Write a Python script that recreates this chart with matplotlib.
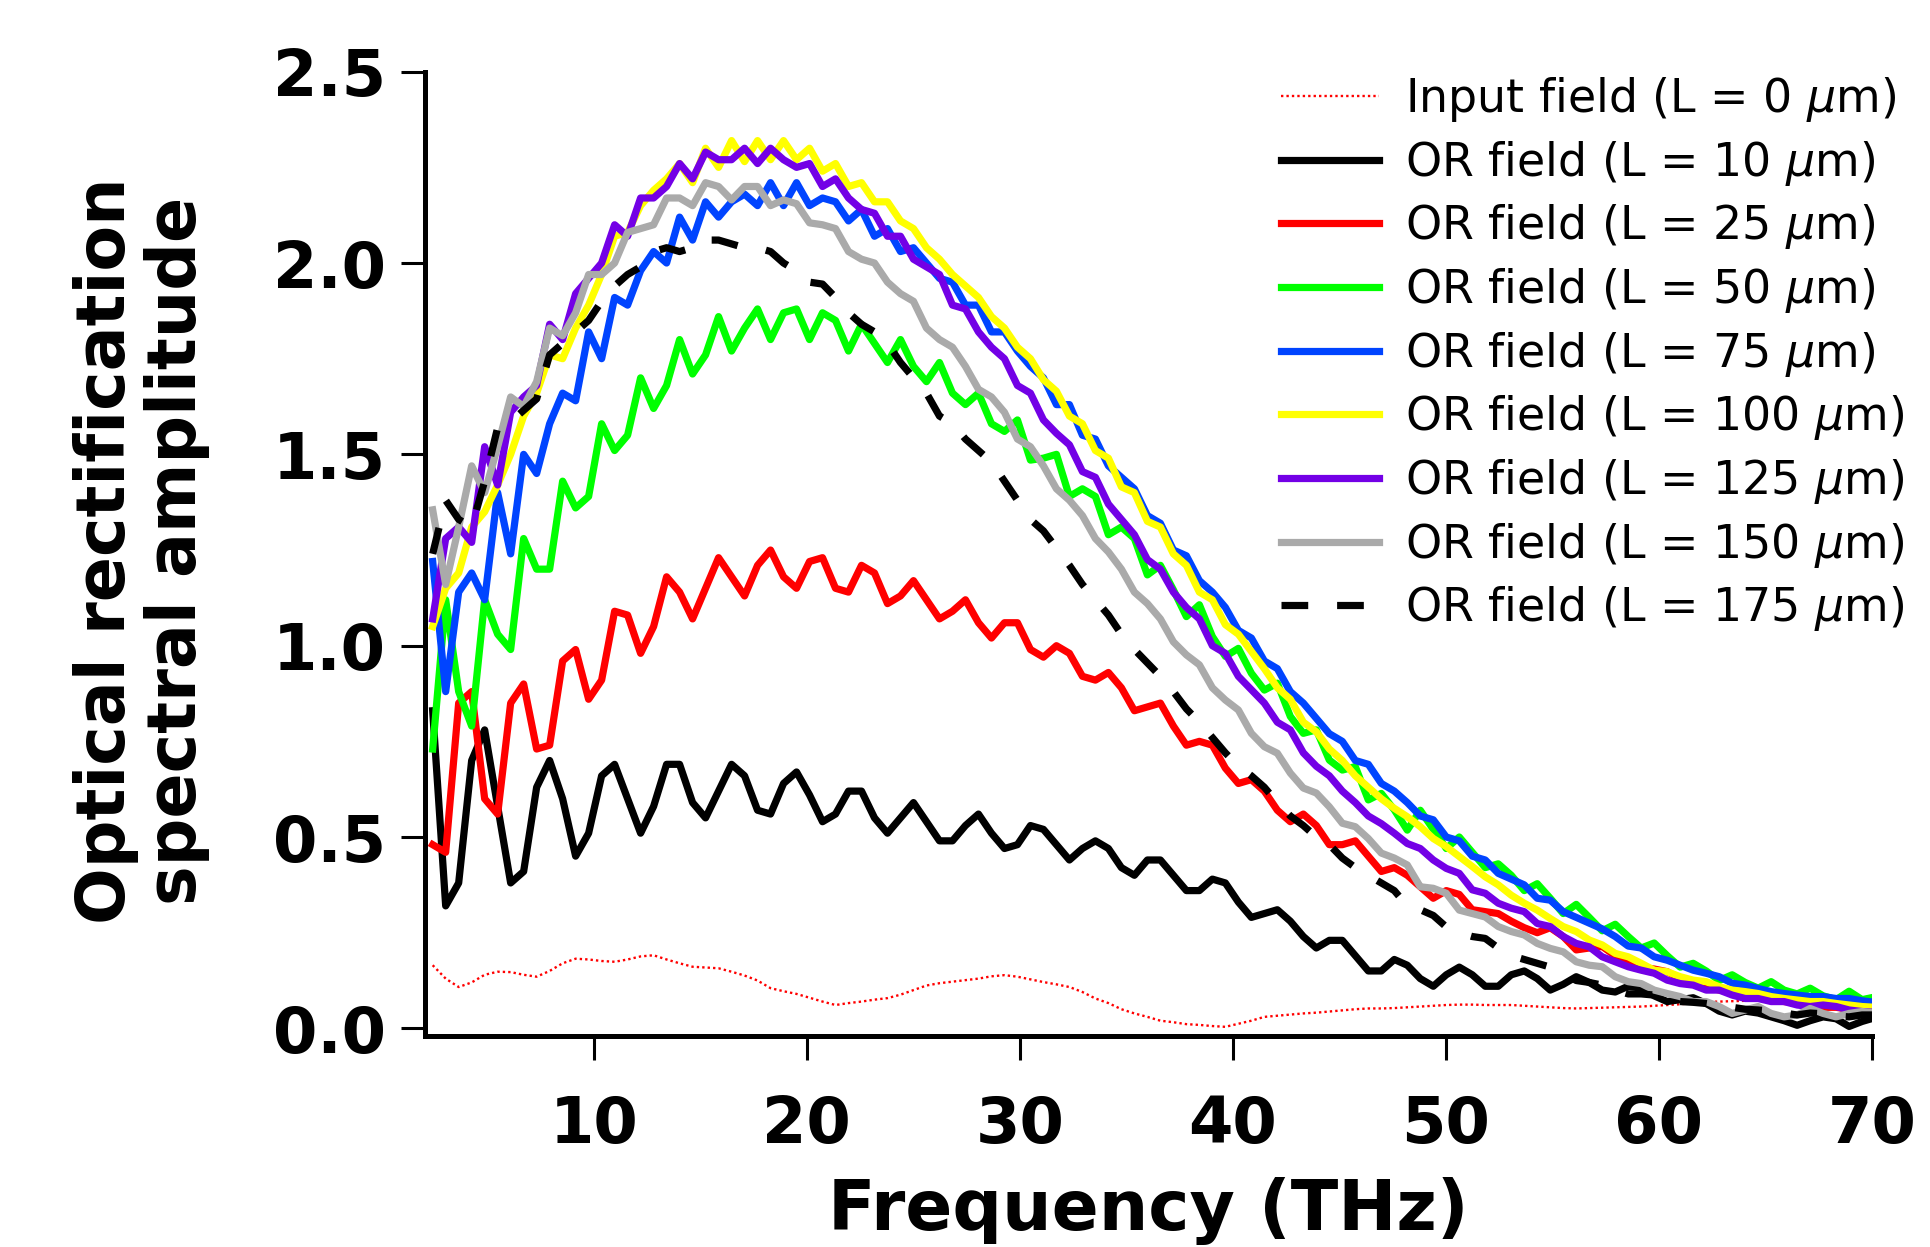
import numpy as np
import matplotlib
matplotlib.use("Agg")
import matplotlib.pyplot as plt

# frequency grid of the spectra (THz), 0.61 THz steps starting at 2.44
freq = np.round(2.44 + 0.61 * np.arange(112), 2)

input_field = [0.165, 0.13, 0.108, 0.12, 0.14, 0.148, 0.147, 0.14, 0.135, 0.15, 0.17, 0.182, 0.18, 0.176,
               0.174, 0.18, 0.188, 0.191, 0.18, 0.17, 0.161, 0.159, 0.157, 0.148, 0.138, 0.125, 0.105, 0.097,
               0.09, 0.08, 0.07, 0.061, 0.066, 0.07, 0.075, 0.079, 0.088, 0.10, 0.112, 0.118, 0.122, 0.126,
               0.13, 0.136, 0.139, 0.135, 0.128, 0.121, 0.115, 0.108, 0.095, 0.078, 0.066, 0.05, 0.039, 0.03,
               0.02, 0.016, 0.011, 0.009, 0.006, 0.004, 0.012, 0.02, 0.03, 0.033, 0.036, 0.039, 0.041, 0.044,
               0.047, 0.05, 0.052, 0.052, 0.053, 0.055, 0.057, 0.059, 0.061, 0.062, 0.062, 0.061, 0.061, 0.061,
               0.059, 0.057, 0.055, 0.053, 0.052, 0.053, 0.054, 0.055, 0.056, 0.057, 0.059, 0.061, 0.063, 0.066,
               0.069, 0.07, 0.071, 0.072, 0.073, 0.074, 0.075, 0.076, 0.077, 0.077, 0.078, 0.078, 0.079, 0.08]

or_10 = [0.83, 0.32, 0.38, 0.70, 0.78, 0.58, 0.38, 0.41, 0.63, 0.70, 0.60, 0.45, 0.51, 0.66, 0.69, 0.60,
         0.51, 0.58, 0.69, 0.69, 0.59, 0.55, 0.62, 0.69, 0.66, 0.57, 0.56, 0.64, 0.67, 0.61, 0.54, 0.56,
         0.62, 0.62, 0.55, 0.51, 0.55, 0.59, 0.54, 0.49, 0.49, 0.53, 0.56, 0.51, 0.47, 0.48, 0.53, 0.52,
         0.48, 0.44, 0.47, 0.49, 0.47, 0.42, 0.40, 0.44, 0.44, 0.40, 0.36, 0.36, 0.39, 0.38, 0.33, 0.29,
         0.30, 0.31, 0.28, 0.24, 0.21, 0.23, 0.23, 0.19, 0.15, 0.15, 0.18, 0.165, 0.13, 0.11, 0.14, 0.16,
         0.14, 0.11, 0.11, 0.14, 0.15, 0.13, 0.10, 0.115, 0.135, 0.12, 0.10, 0.095, 0.11, 0.105, 0.085, 0.07,
         0.075, 0.08, 0.065, 0.045, 0.035, 0.045, 0.04, 0.03, 0.02, 0.008, 0.02, 0.03, 0.025, 0.005, 0.018, 0.028]

or_25 = [0.48, 0.46, 0.85, 0.88, 0.60, 0.56, 0.85, 0.90, 0.73, 0.74, 0.96, 0.99, 0.86, 0.91, 1.09, 1.08,
         0.98, 1.05, 1.18, 1.14, 1.07, 1.15, 1.23, 1.18, 1.13, 1.21, 1.25, 1.18, 1.15, 1.22, 1.23, 1.15,
         1.14, 1.21, 1.19, 1.11, 1.13, 1.17, 1.12, 1.07, 1.09, 1.12, 1.06, 1.02, 1.06, 1.06, 0.99, 0.97,
         1.00, 0.98, 0.92, 0.91, 0.93, 0.89, 0.83, 0.84, 0.85, 0.79, 0.74, 0.75, 0.74, 0.68, 0.64, 0.65,
         0.62, 0.57, 0.54, 0.56, 0.53, 0.48, 0.48, 0.49, 0.45, 0.41, 0.42, 0.40, 0.37, 0.34, 0.36, 0.35,
         0.31, 0.305, 0.30, 0.28, 0.263, 0.25, 0.263, 0.24, 0.205, 0.21, 0.214, 0.19, 0.17, 0.16, 0.155, 0.148,
         0.13, 0.122, 0.109, 0.10, 0.095, 0.09, 0.085, 0.075, 0.07, 0.068, 0.06, 0.055, 0.055, 0.05, 0.045, 0.045]

or_50 = [0.73, 1.12, 0.88, 0.79, 1.12, 1.03, 0.99, 1.28, 1.20, 1.20, 1.43, 1.36, 1.39, 1.58, 1.51, 1.55,
         1.70, 1.62, 1.68, 1.80, 1.71, 1.76, 1.86, 1.77, 1.83, 1.88, 1.80, 1.87, 1.88, 1.80, 1.87, 1.85,
         1.77, 1.84, 1.79, 1.74, 1.80, 1.73, 1.69, 1.74, 1.66, 1.63, 1.66, 1.58, 1.56, 1.59, 1.485, 1.49,
         1.50, 1.39, 1.41, 1.39, 1.29, 1.31, 1.28, 1.185, 1.21, 1.146, 1.076, 1.107, 1.024, 0.972, 0.993, 0.928,
         0.884, 0.902, 0.815, 0.771, 0.78, 0.701, 0.675, 0.684, 0.597, 0.614, 0.571, 0.518, 0.57, 0.52, 0.47, 0.50,
         0.46, 0.42, 0.43, 0.40, 0.36, 0.378, 0.34, 0.30, 0.324, 0.29, 0.255, 0.272, 0.24, 0.21, 0.223, 0.19,
         0.16, 0.17, 0.15, 0.125, 0.14, 0.12, 0.105, 0.122, 0.10, 0.09, 0.105, 0.085, 0.075, 0.097, 0.075, 0.082]

or_75 = [1.22, 0.88, 1.14, 1.19, 1.12, 1.40, 1.24, 1.50, 1.45, 1.58, 1.66, 1.64, 1.82, 1.75, 1.91, 1.89,
         1.98, 2.03, 2.00, 2.12, 2.06, 2.16, 2.12, 2.16, 2.18, 2.15, 2.21, 2.15, 2.21, 2.15, 2.17, 2.16,
         2.11, 2.14, 2.07, 2.09, 2.03, 2.04, 2.00, 1.96, 1.95, 1.89, 1.89, 1.82, 1.82, 1.77, 1.73, 1.70,
         1.63, 1.63, 1.55, 1.54, 1.47, 1.44, 1.41, 1.34, 1.32, 1.25, 1.235, 1.17, 1.14, 1.10, 1.04, 1.02,
         0.96, 0.94, 0.88, 0.85, 0.81, 0.77, 0.75, 0.70, 0.69, 0.64, 0.62, 0.59, 0.555, 0.545, 0.50, 0.49,
         0.45, 0.44, 0.405, 0.39, 0.375, 0.34, 0.335, 0.305, 0.29, 0.275, 0.26, 0.24, 0.215, 0.21, 0.187, 0.178,
         0.165, 0.152, 0.144, 0.135, 0.118, 0.113, 0.104, 0.096, 0.091, 0.087, 0.083, 0.083, 0.078, 0.078, 0.072, 0.068]

or_100 = [1.05, 1.15, 1.19, 1.31, 1.35, 1.42, 1.50, 1.60, 1.66, 1.76, 1.75, 1.83, 1.89, 1.97, 2.07, 2.08,
          2.15, 2.19, 2.22, 2.26, 2.21, 2.30, 2.25, 2.32, 2.265, 2.32, 2.27, 2.32, 2.27, 2.30, 2.24, 2.26,
          2.20, 2.21, 2.16, 2.16, 2.11, 2.09, 2.04, 2.01, 1.97, 1.94, 1.91, 1.86, 1.83, 1.78, 1.75, 1.695,
          1.665, 1.60, 1.58, 1.51, 1.49, 1.415, 1.40, 1.325, 1.31, 1.24, 1.21, 1.14, 1.12, 1.055, 1.03, 0.985,
          0.94, 0.89, 0.86, 0.80, 0.775, 0.73, 0.70, 0.66, 0.63, 0.60, 0.575, 0.553, 0.527, 0.496, 0.475, 0.449,
          0.423, 0.396, 0.375, 0.348, 0.327, 0.309, 0.287, 0.266, 0.253, 0.231, 0.218, 0.196, 0.187, 0.17, 0.152, 0.148,
          0.135, 0.126, 0.122, 0.109, 0.10, 0.096, 0.091, 0.083, 0.078, 0.074, 0.07, 0.07, 0.065, 0.061, 0.057, 0.055]

or_125 = [1.07, 1.28, 1.31, 1.27, 1.52, 1.42, 1.61, 1.65, 1.68, 1.84, 1.80, 1.92, 1.96, 2.00, 2.10, 2.07,
          2.17, 2.17, 2.20, 2.26, 2.22, 2.29, 2.27, 2.27, 2.30, 2.26, 2.30, 2.27, 2.25, 2.26, 2.20, 2.22,
          2.17, 2.14, 2.13, 2.07, 2.07, 2.01, 1.99, 1.97, 1.89, 1.88, 1.82, 1.78, 1.75, 1.68, 1.66, 1.59,
          1.555, 1.525, 1.455, 1.44, 1.37, 1.33, 1.29, 1.225, 1.20, 1.14, 1.10, 1.07, 1.00, 0.98, 0.92, 0.885,
          0.85, 0.80, 0.78, 0.72, 0.685, 0.66, 0.62, 0.59, 0.555, 0.535, 0.51, 0.483, 0.47, 0.44, 0.418, 0.405,
          0.362, 0.353, 0.327, 0.314, 0.305, 0.274, 0.266, 0.24, 0.222, 0.213, 0.187, 0.174, 0.161, 0.152, 0.144, 0.126,
          0.117, 0.113, 0.10, 0.10, 0.087, 0.078, 0.078, 0.07, 0.07, 0.061, 0.057, 0.061, 0.057, 0.048, 0.044, 0.042]

or_150 = [1.355, 1.16, 1.31, 1.47, 1.40, 1.52, 1.65, 1.625, 1.69, 1.83, 1.81, 1.87, 1.97, 1.97, 2.00, 2.08,
          2.09, 2.10, 2.17, 2.17, 2.15, 2.21, 2.20, 2.165, 2.20, 2.20, 2.15, 2.165, 2.155, 2.105, 2.10, 2.09,
          2.03, 2.01, 2.00, 1.95, 1.92, 1.90, 1.83, 1.80, 1.78, 1.73, 1.67, 1.65, 1.61, 1.54, 1.52, 1.47,
          1.41, 1.38, 1.34, 1.28, 1.245, 1.20, 1.14, 1.11, 1.07, 1.01, 0.976, 0.95, 0.89, 0.858, 0.832, 0.771,
          0.736, 0.719, 0.667, 0.628, 0.615, 0.579, 0.536, 0.527, 0.496, 0.458, 0.445, 0.427, 0.37, 0.366, 0.353, 0.309,
          0.30, 0.291, 0.266, 0.253, 0.244, 0.222, 0.209, 0.20, 0.174, 0.165, 0.161, 0.135, 0.122, 0.117, 0.10, 0.091,
          0.083, 0.07, 0.07, 0.057, 0.039, 0.048, 0.057, 0.039, 0.03, 0.035, 0.052, 0.039, 0.03, 0.039, 0.044, 0.04]

or_175 = [1.24, 1.38, 1.33, 1.31, 1.43, 1.57, 1.585, 1.615, 1.645, 1.76, 1.79, 1.82, 1.85, 1.90, 1.94, 1.97,
          1.99, 2.03, 2.04, 2.03, 2.04, 2.06, 2.06, 2.05, 2.04, 2.04, 2.03, 2.00, 1.98, 1.95, 1.945, 1.91,
          1.87, 1.84, 1.82, 1.79, 1.74, 1.70, 1.66, 1.60, 1.58, 1.54, 1.51, 1.48, 1.43, 1.38, 1.33, 1.30,
          1.255, 1.21, 1.16, 1.12, 1.08, 1.03, 0.99, 0.955, 0.92, 0.88, 0.835, 0.80, 0.76, 0.72, 0.685, 0.66,
          0.63, 0.59, 0.555, 0.53, 0.50, 0.48, 0.445, 0.42, 0.40, 0.38, 0.36, 0.32, 0.31, 0.295, 0.265, 0.25,
          0.24, 0.235, 0.21, 0.19, 0.18, 0.17, 0.16, 0.145, 0.125, 0.12, 0.113, 0.10, 0.09, 0.09, 0.087, 0.074,
          0.07, 0.068, 0.065, 0.06, 0.055, 0.05, 0.048, 0.045, 0.04, 0.035, 0.04, 0.038, 0.032, 0.03, 0.035, 0.035]

labels = ["Input field (L = 0 $\\mu$m)",
          "OR field (L = 10 $\\mu$m)",
          "OR field (L = 25 $\\mu$m)",
          "OR field (L = 50 $\\mu$m)",
          "OR field (L = 75 $\\mu$m)",
          "OR field (L = 100 $\\mu$m)",
          "OR field (L = 125 $\\mu$m)",
          "OR field (L = 150 $\\mu$m)",
          "OR field (L = 175 $\\mu$m)"]

plt.rcParams["font.family"] = ["DejaVu Sans"]
plt.rcParams["mathtext.fontset"] = "dejavusans"

fig = plt.figure(figsize=(19.31, 12.47), dpi=100)
ax = fig.add_axes([0.2201, 0.1692, 0.7493, 0.7733])

lw = 5.2
ax.plot(freq, input_field, color="#ff0000", lw=1.7, ls=(0, (1.0, 1.3)), label=labels[0])
ax.plot(freq, or_10, color="black", lw=lw, label=labels[1])
ax.plot(freq, or_25, color="#ff0000", lw=lw, label=labels[2])
ax.plot(freq, or_50, color="#00ff00", lw=lw, label=labels[3])
ax.plot(freq, or_75, color="#0044ff", lw=lw, label=labels[4])
ax.plot(freq, or_100, color="#ffff00", lw=lw, label=labels[5])
ax.plot(freq, or_125, color="#7300e6", lw=lw, label=labels[6])
ax.plot(freq, or_150, color="#aaaaaa", lw=lw, label=labels[7])
ax.plot(freq, or_175, color="black", lw=lw, ls=(0, (3.7, 4.0)), label=labels[8])

ax.set_xlim(2.08, 70)
ax.set_ylim(-0.02, 2.5)
ax.set_xticks([10, 20, 30, 40, 50, 60, 70])
ax.set_yticks([0.0, 0.5, 1.0, 1.5, 2.0, 2.5])
ax.set_yticklabels(["0.0", "0.5", "1.0", "1.5", "2.0", "2.5"])

for side in ["top", "right"]:
    ax.spines[side].set_visible(False)
for side in ["left", "bottom"]:
    ax.spines[side].set_linewidth(3.6)

ax.tick_params(axis="y", direction="out", length=17, width=2.2, pad=11)
ax.tick_params(axis="x", direction="out", length=17, width=2.2, pad=25)
for t in ax.get_xticklabels() + ax.get_yticklabels():
    t.set_fontsize(46)
    t.set_fontweight("bold")

fig.text(1148.5 / 1931, 1 - 1211 / 1247, "Frequency (THz)", fontsize=50, fontweight="bold",
         ha="center", va="center")
fig.text(141.5 / 1931, 1 - 551 / 1247, "Optical rectification\nspectral amplitude", fontsize=48,
         fontweight="bold", rotation=90, ha="center", va="center", multialignment="center",
         linespacing=1.1)

fig.legend(loc="upper left", bbox_to_anchor=(1281 / 1931, 1 - 75 / 1247), frameon=False,
           fontsize=33, handlelength=2.14, handletextpad=0.57, labelspacing=0.32,
           borderpad=0, borderaxespad=0)

fig.savefig("out.png", dpi=100)
